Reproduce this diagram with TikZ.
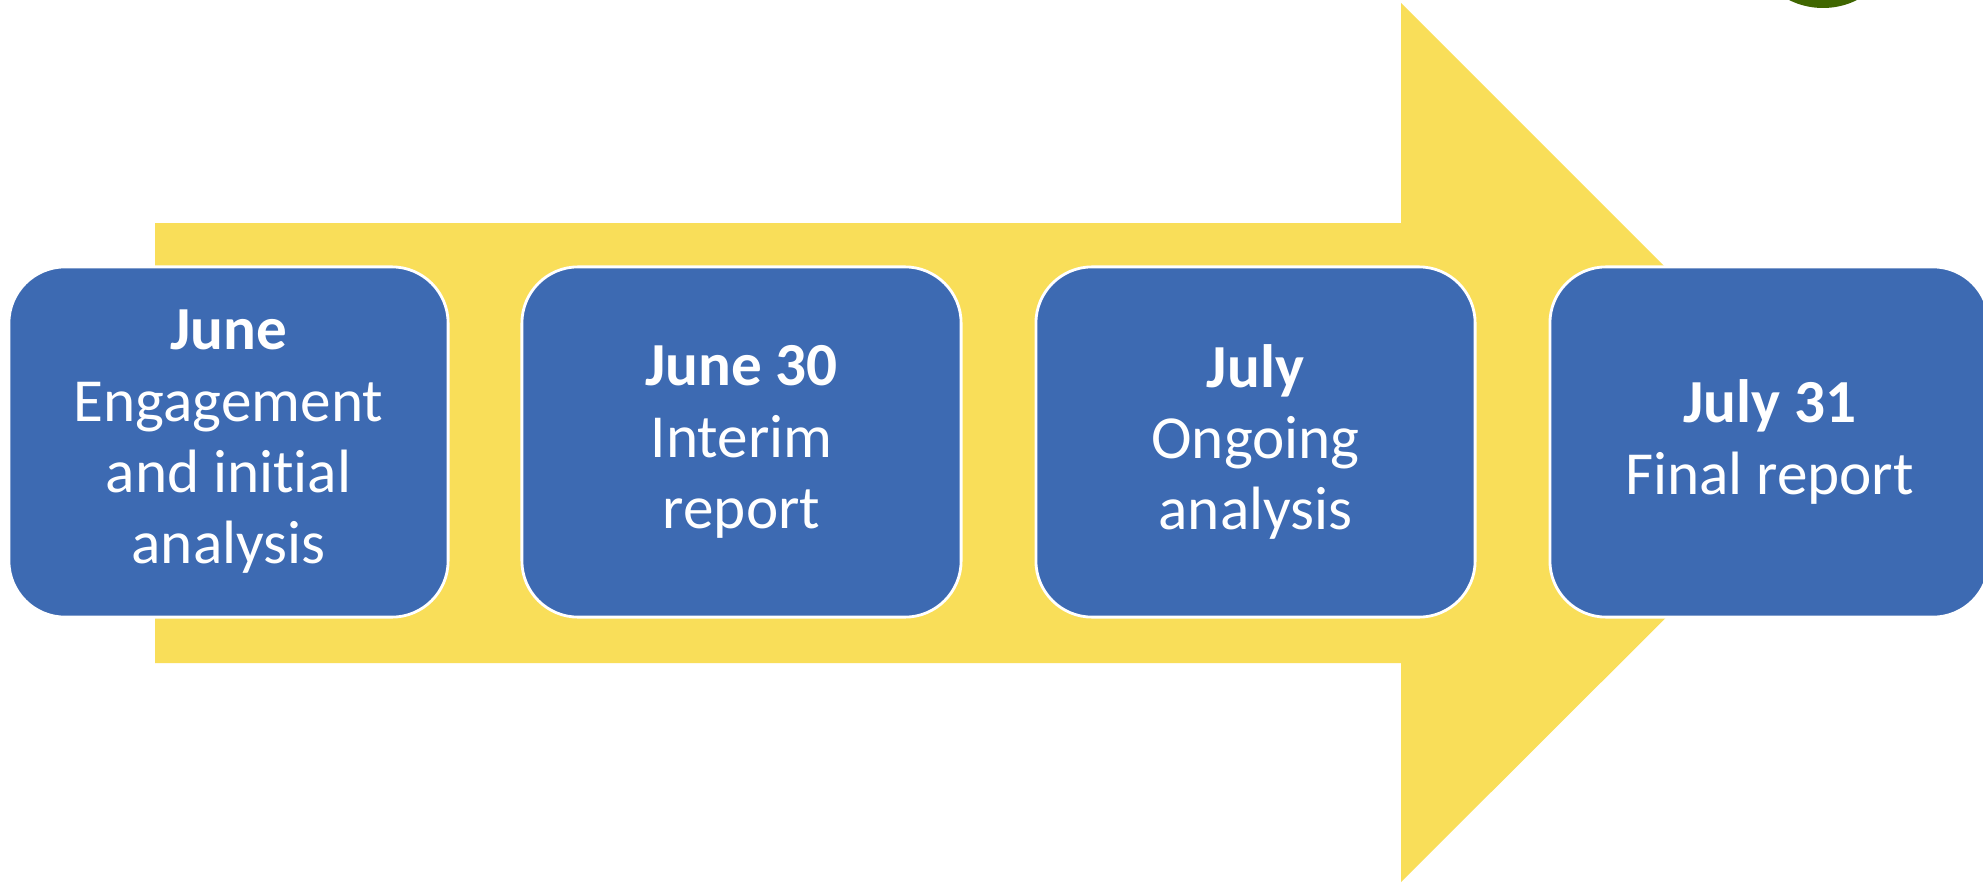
\documentclass[tikz,border=0pt]{standalone}
\usepackage{fontspec}
\setmainfont[Ligatures=NoCommon]{Carlito}
\definecolor{arrowyellow}{HTML}{F9DE59}
\definecolor{boxblue}{HTML}{3D6AB2}
\definecolor{dotgreen}{HTML}{3F6600}
\tikzset{
  stepbox/.style={rectangle, rounded corners=16pt, fill=boxblue, draw=white,
    line width=0.8pt, minimum width=124.9pt, minimum height=99.6pt, inner sep=0pt,
    text=white, align=center, font=\fontsize{17.4pt}{20.3pt}\selectfont},
}
\begin{document}
\begin{tikzpicture}[x=0.01cm, y=-0.01cm]
\useasboundingbox (0,0) rectangle (1983,882);
\clip (0,0) rectangle (1983,882);
\fill[white] (0,0) rectangle (1983,882);
% big arrow
\fill[arrowyellow] (155,223) -- (1401,223) -- (1401,3) -- (1841,443) -- (1401,882)
  -- (1401,663) -- (155,663) -- cycle;
% green circle partly visible
\fill[dotgreen] (1823,-68) circle[radius=76];
% boxes
\node[stepbox] (b1) at (228.5,442) {\textbf{June}\\Engagement\\and initial\\analysis};
\node[stepbox] (b2) at (741.5,442) {\textbf{June 30}\\Interim\\report};
\node[stepbox] (b3) at (1255.5,442) {\textbf{July}\\Ongoing\\analysis};
\node[stepbox] (b4) at (1769.5,442) {\textbf{July 31}\\Final report};
\end{tikzpicture}
\end{document}
